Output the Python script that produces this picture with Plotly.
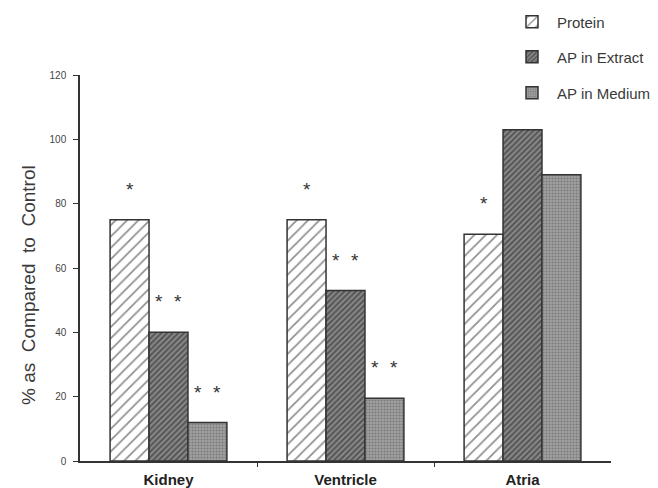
import plotly.graph_objects as go

categories = ["Kidney", "Ventricle", "Atria"]
series_names = ["Protein", "AP in Extract", "AP in Medium"]
protein = [75, 75, 70.5]
ap_extract = [40, 53, 103]
ap_medium = [12, 19.5, 89]
# significance marks (number of asterisks) per bar
sig_protein = [1, 1, 1]
sig_extract = [2, 2, 0]
sig_medium = [2, 2, 0]
y_ticks = [0, 20, 40, 60, 80, 100, 120]
y_title = "% as\u00a0\u00a0Compared\u00a0\u00a0to\u00a0\u00a0Control"

values = [protein, ap_extract, ap_medium]
sigs = [sig_protein, sig_extract, sig_medium]

BARGAP = 0.34
bar_w = (1 - BARGAP) / 3
xpos = list(range(len(categories)))

patterns = [
    dict(shape="/", fgcolor="#222222", bgcolor="white", size=8, solidity=0.22),
    dict(shape="/", fgcolor="#1e1e1e", bgcolor="#8a8a8a", size=4, solidity=0.5),
    dict(shape=".", fgcolor="#555555", bgcolor="#a0a0a0", size=3, solidity=0.4),
]
legend_ids = ["legend", "legend2", "legend3"]

fig = go.Figure()
for k in range(3):
    fig.add_trace(go.Bar(
        x=xpos, y=values[k], name=series_names[k],
        marker=dict(color="white", pattern=patterns[k],
                    line=dict(color="#333333", width=1.5)),
        legend=legend_ids[k], showlegend=True,
    ))

annotations = []
for k in range(3):
    for i in range(len(categories)):
        n = sigs[k][i]
        if n == 0:
            continue
        cx = xpos[i] + (k - 1) * bar_w
        shifts = [0] if n == 1 else [-9.5, 9.5]
        for s in shifts:
            annotations.append(dict(
                x=cx, y=values[k][i] + 11, xref="x", yref="y",
                text="*", showarrow=False, xshift=s, yshift=-5,
                font=dict(size=19, color="#333333", family="Liberation Sans, Arial"),
            ))

L, R, T, B = 80, 47, 75, 27
W, H = 658, 488
pw, ph = W - L - R, H - T - B

# y-axis title as a rotated annotation
annotations.append(dict(
    x=(28 - L) / pw, y=(H - B - 285) / ph, xref="paper", yref="paper",
    text=y_title, textangle=-90, showarrow=False,
    xanchor="center", yanchor="middle",
    font=dict(size=19, color="#3a3a3a", family="Liberation Sans, Arial"),
))

legend_common = dict(
    bgcolor="rgba(0,0,0,0)", borderwidth=0, itemwidth=40,
    font=dict(size=15, color="#3a3a3a", family="Liberation Sans, Arial"),
    xanchor="left", yanchor="middle", xref="paper", yref="paper",
)
leg_x = (507 - L) / pw
leg_y = [22, 57, 93]
fig.update_layout(
    width=W, height=H,
    margin=dict(l=L, r=R, t=T, b=B, autoexpand=False),
    paper_bgcolor="white", plot_bgcolor="white",
    barmode="group", bargap=BARGAP, bargroupgap=0,
    font=dict(family="Liberation Sans, Arial", color="#333333"),
    legend=dict(**legend_common, x=leg_x, y=(H - B - leg_y[0]) / ph),
    legend2=dict(**legend_common, x=leg_x, y=(H - B - leg_y[1]) / ph),
    legend3=dict(**legend_common, x=leg_x, y=(H - B - leg_y[2]) / ph),
    xaxis=dict(
        range=[-0.5, 2.5], tickvals=xpos, ticktext=categories,
        showline=True, linecolor="#333333", linewidth=1.5,
        ticks="", showgrid=False, zeroline=False,
        tickfont=dict(size=15, color="#222222", family="Liberation Sans, Arial", weight="bold"),
        ticklabelstandoff=4,
        minor=dict(tickvals=[0.5, 1.5], ticks="outside", ticklen=4,
                   tickcolor="#333333", tickwidth=1.2),
    ),
    yaxis=dict(
        range=[0, 120], tickvals=y_ticks,
        showline=True, linecolor="#333333", linewidth=1.5,
        ticks="outside", ticklen=5, tickcolor="#333333", tickwidth=1.2,
        showgrid=False, zeroline=False,
        tickfont=dict(size=10, color="#444444"),
        ticklabelstandoff=5,
    ),
    annotations=annotations,
)

fig.write_html("out.html")
